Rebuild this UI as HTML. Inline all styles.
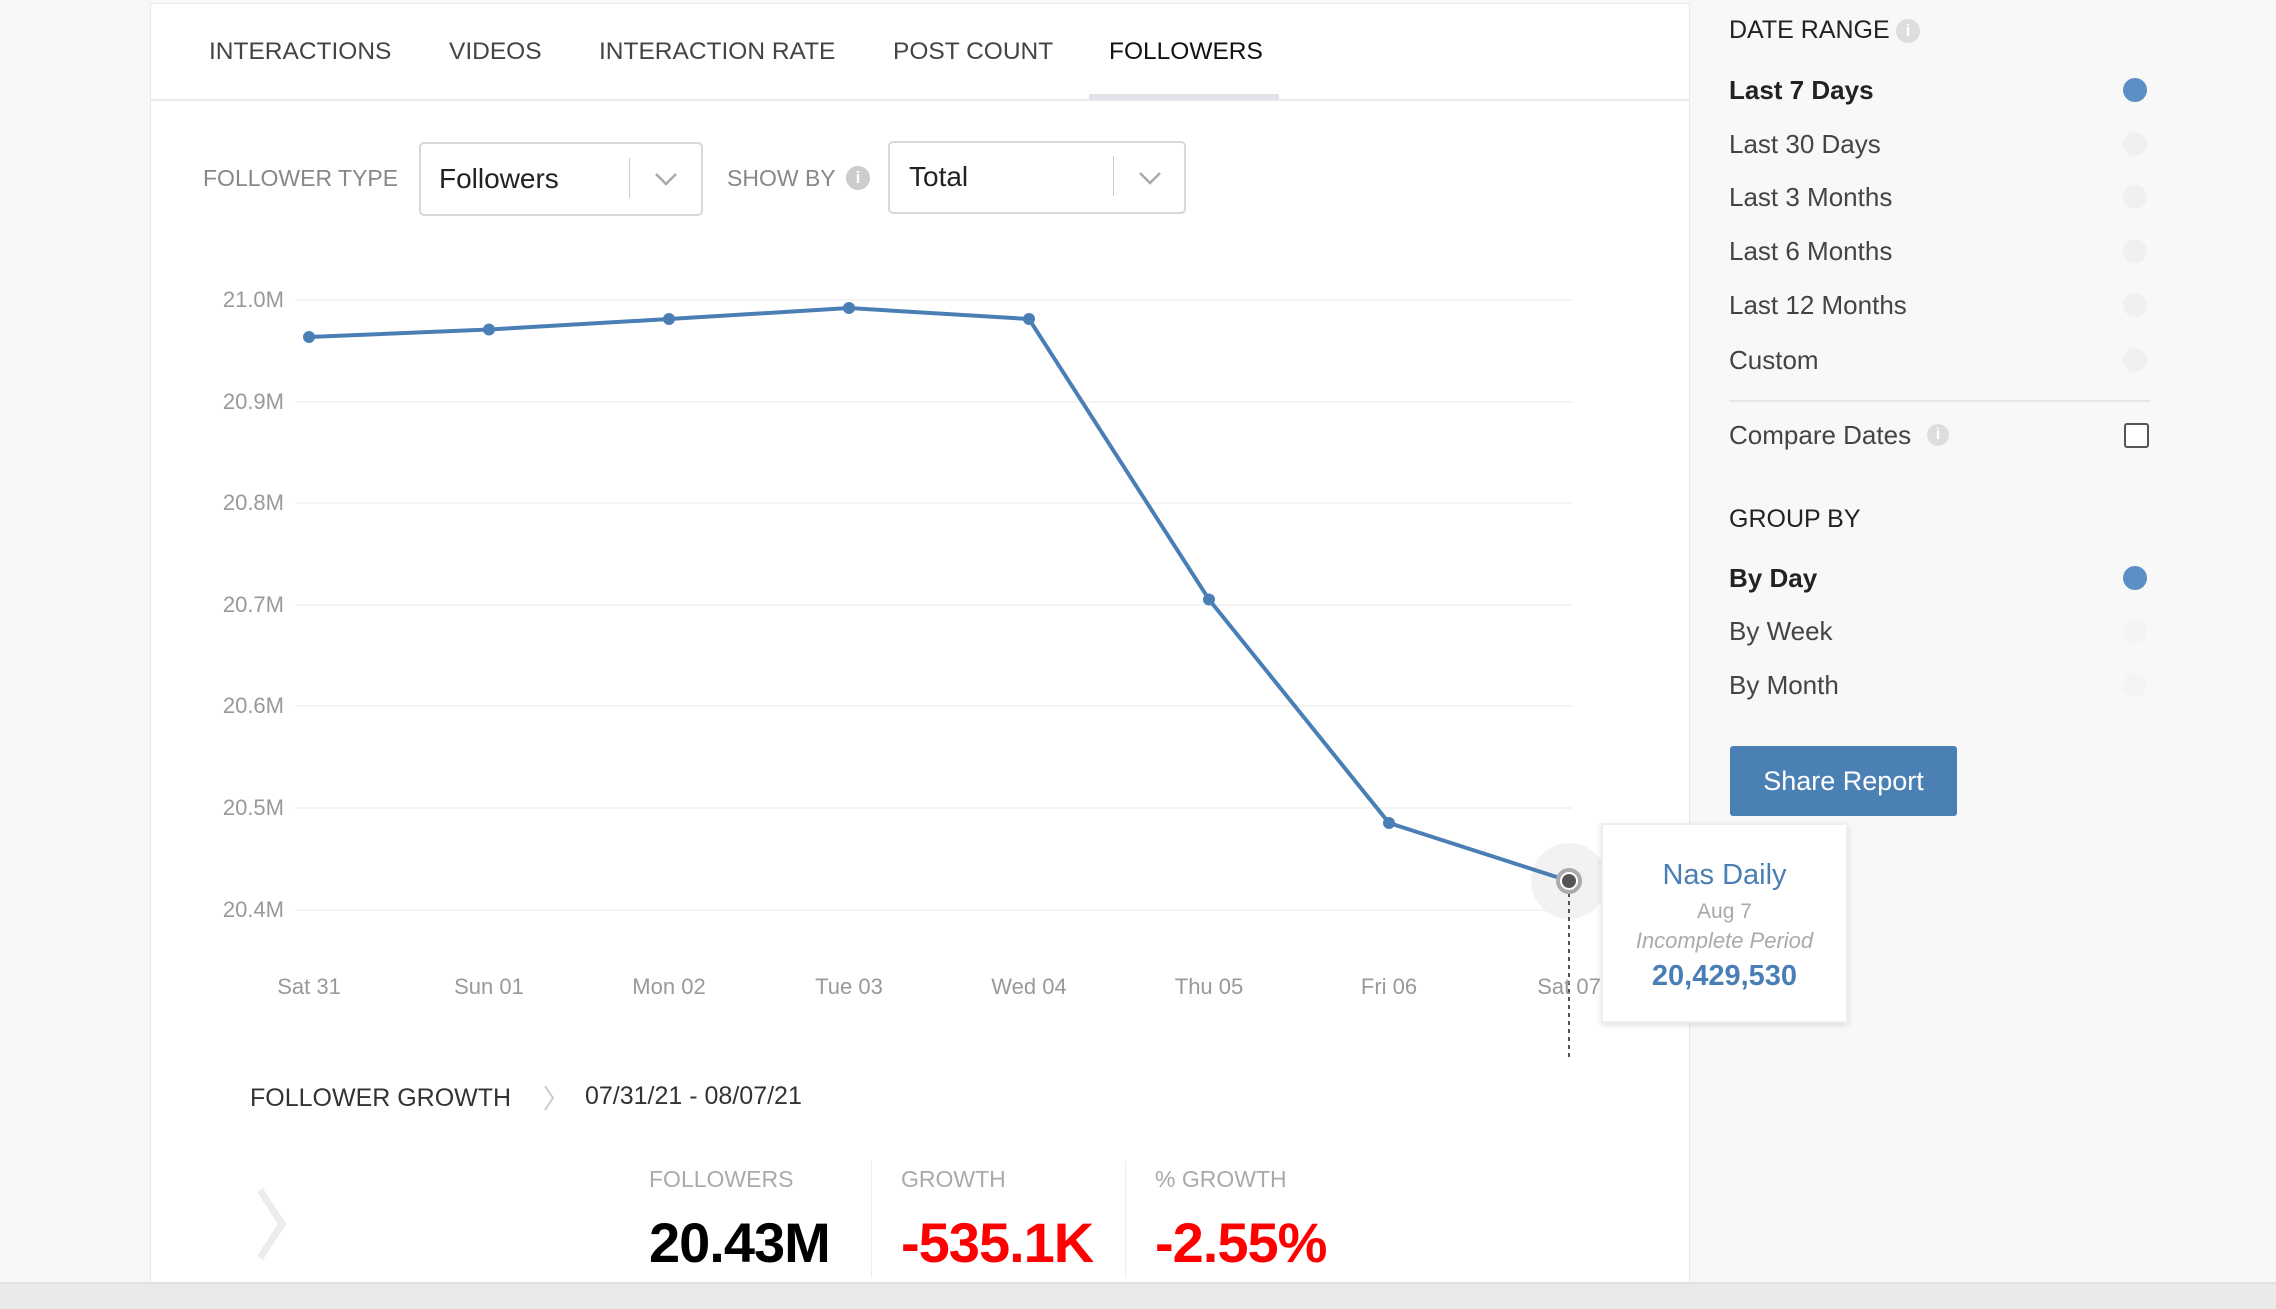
<!DOCTYPE html>
<html><head><meta charset="utf-8"><style>
*{margin:0;padding:0;box-sizing:border-box}
body{width:2276px;height:1309px;background:#f8f8f8;font-family:"Liberation Sans",sans-serif;position:relative;overflow:hidden}
.a{position:absolute;white-space:nowrap}
.panel{position:absolute;left:150px;top:3px;width:1540px;height:1280px;background:#fff;border:1px solid #e8e8e8}
.tab{position:absolute;top:38px;font-size:24.5px;color:#444}
.lbl{font-size:23px;color:#888}
.sel{position:absolute;border:2px solid #d8d8d8;border-radius:5px;background:#fff}
.yl{position:absolute;right:1992px;font-size:22px;color:#999}
.xl{position:absolute;top:974px;font-size:22px;color:#999;transform:translateX(-50%)}
.side{font-size:26px;color:#444}
.radio{position:absolute;left:2123px;width:24px;height:24px;border-radius:50%;background:#f0f0f0}
.on{background:#5b8fc5}
</style></head><body>
<div class="panel"></div>
<div class="tab a" style="left:209px">INTERACTIONS</div>
<div class="tab a" style="left:449px">VIDEOS</div>
<div class="tab a" style="left:599px">INTERACTION RATE</div>
<div class="tab a" style="left:893px">POST COUNT</div>
<div class="tab a" style="left:1109px;color:#111">FOLLOWERS</div>
<div class="a" style="left:151px;top:99px;width:1538px;height:2px;background:#ececec"></div>
<div class="a" style="left:1089px;top:94px;width:190px;height:6px;background:#e0e3e8"></div>

<div class="a lbl" style="left:203px;top:165px">FOLLOWER TYPE</div>
<div class="sel" style="left:419px;top:142px;width:284px;height:74px"></div>
<div class="a" style="left:439px;top:163px;font-size:28px;color:#222">Followers</div>
<div class="a" style="left:629px;top:158px;width:1px;height:40px;background:#ccc"></div>
<div class="a lbl" style="left:727px;top:165px">SHOW BY</div>
<div class="a" style="left:846px;top:166px;width:24px;height:24px;border-radius:50%;background:#ccc;color:#fff;font-size:17px;text-align:center;line-height:24px;font-weight:bold">i</div>
<div class="sel" style="left:888px;top:141px;width:298px;height:73px"></div>
<div class="a" style="left:909px;top:161px;font-size:28px;color:#222">Total</div>
<div class="a" style="left:1113px;top:156px;width:1px;height:40px;background:#ccc"></div>

<svg class="a" style="left:0;top:0" width="2276" height="1309">
<polyline fill="none" stroke="#aaa" stroke-width="2.5" points="656,174 666,184 676,174"/>
<polyline fill="none" stroke="#aaa" stroke-width="2.5" points="1140,173 1150,183 1160,173"/>
<g stroke="#f0f0f0" stroke-width="1.5">
<line x1="295" x2="1572" y1="300" y2="300"/><line x1="295" x2="1572" y1="402" y2="402"/><line x1="295" x2="1572" y1="503" y2="503"/><line x1="295" x2="1572" y1="605" y2="605"/><line x1="295" x2="1572" y1="706" y2="706"/><line x1="295" x2="1572" y1="808" y2="808"/><line x1="295" x2="1572" y1="910" y2="910"/>
</g>
<circle cx="1569" cy="881" r="38" fill="#f2f2f2"/>
<line x1="1569" y1="885" x2="1569" y2="1060" stroke="#555" stroke-width="2" stroke-dasharray="4,4"/>
<polyline fill="none" stroke="#4a7fb5" stroke-width="4" points="309,337 489,329.5 669,319 849,308 1029,319 1209,599.5 1389,823 1569,881"/>
<g fill="#4a7fb5"><circle cx="309" cy="337" r="6"/><circle cx="489" cy="329.5" r="6"/><circle cx="669" cy="319" r="6"/><circle cx="849" cy="308" r="6"/><circle cx="1029" cy="319" r="6"/><circle cx="1209" cy="599.5" r="6"/><circle cx="1389" cy="823" r="6"/></g>
<circle cx="1569" cy="881" r="11" fill="#fff" stroke="#aaa" stroke-width="4"/>
<circle cx="1569" cy="881" r="7" fill="#555"/>
<polyline fill="none" stroke="#ececec" stroke-width="7" points="260,1190 282,1224 260,1258"/>
<polyline fill="none" stroke="#ccc" stroke-width="2" points="545,1086 553,1098 545,1110"/>
</svg>
<div class="yl" style="top:287px">21.0M</div>
<div class="yl" style="top:389px">20.9M</div>
<div class="yl" style="top:490px">20.8M</div>
<div class="yl" style="top:592px">20.7M</div>
<div class="yl" style="top:693px">20.6M</div>
<div class="yl" style="top:795px">20.5M</div>
<div class="yl" style="top:897px">20.4M</div>
<div class="xl" style="left:309px">Sat 31</div><div class="xl" style="left:489px">Sun 01</div><div class="xl" style="left:669px">Mon 02</div><div class="xl" style="left:849px">Tue 03</div><div class="xl" style="left:1029px">Wed 04</div><div class="xl" style="left:1209px">Thu 05</div><div class="xl" style="left:1389px">Fri 06</div><div class="xl" style="left:1569px">Sat 07</div>

<div class="a" style="left:1601px;top:823px;width:247px;height:200px;background:#fff;border:2px solid #eee;box-shadow:0 2px 6px rgba(0,0,0,0.12);text-align:center">
<div style="margin-top:34px;font-size:29px;color:#4a7fb5">Nas Daily</div>
<div style="margin-top:8px;font-size:21px;color:#aaa">Aug 7</div>
<div style="margin-top:4px;font-size:22px;color:#aaa;font-style:italic">Incomplete Period</div>
<div style="margin-top:6px;font-size:29px;color:#4a7fb5;font-weight:bold">20,429,530</div>
</div>

<div class="a" style="left:250px;top:1084px;font-size:25px;color:#333">FOLLOWER GROWTH</div>
<div class="a" style="left:585px;top:1082px;font-size:25px;color:#333">07/31/21 - 08/07/21</div>
<div class="a lbl" style="left:649px;top:1166px;color:#aaa">FOLLOWERS</div>
<div class="a lbl" style="left:901px;top:1166px;color:#aaa">GROWTH</div>
<div class="a lbl" style="left:1155px;top:1166px;color:#aaa">% GROWTH</div>
<div class="a" style="left:871px;top:1161px;width:1px;height:117px;background:#ececec"></div>
<div class="a" style="left:1125px;top:1161px;width:1px;height:117px;background:#ececec"></div>
<div class="a" style="left:649px;top:1210px;font-size:56px;color:#000;font-weight:bold;letter-spacing:-1px">20.43M</div>
<div class="a" style="left:901px;top:1210px;font-size:56px;color:#f00;font-weight:bold;letter-spacing:-1px">-535.1K</div>
<div class="a" style="left:1155px;top:1210px;font-size:56px;color:#f00;font-weight:bold;letter-spacing:-1px">-2.55%</div>
<div class="a" style="left:0;top:1282px;width:2276px;height:27px;background:#eaeaea;border-top:2px solid #e0e0e0"></div>

<div class="a side" style="left:1729px;top:16px;color:#222;font-size:25px">DATE RANGE</div>
<div class="a" style="left:1896px;top:19px;width:24px;height:24px;border-radius:50%;background:#ddd;color:#fff;font-size:17px;text-align:center;line-height:24px;font-weight:bold">i</div>
<div class="a side" style="left:1729px;top:75px;font-weight:bold;color:#222">Last 7 Days</div><div class="radio on" style="top:78px"></div>
<div class="a side" style="left:1729px;top:129px">Last 30 Days</div><div class="radio" style="top:132px"></div>
<div class="a side" style="left:1729px;top:182px">Last 3 Months</div><div class="radio" style="top:185px"></div>
<div class="a side" style="left:1729px;top:236px">Last 6 Months</div><div class="radio" style="top:239px"></div>
<div class="a side" style="left:1729px;top:290px">Last 12 Months</div><div class="radio" style="top:293px"></div>
<div class="a side" style="left:1729px;top:345px">Custom</div><div class="radio" style="top:348px"></div>
<div class="a" style="left:1729px;top:400px;width:421px;height:2px;background:#e6e6e6"></div>
<div class="a side" style="left:1729px;top:420px">Compare Dates</div>
<div class="a" style="left:1927px;top:424px;width:22px;height:22px;border-radius:50%;background:#ddd;color:#fff;font-size:16px;text-align:center;line-height:22px;font-weight:bold">i</div>
<div class="a" style="left:2124px;top:423px;width:25px;height:25px;border:2px solid #555;border-radius:3px;background:#fff"></div>
<div class="a side" style="left:1729px;top:505px;color:#222;font-size:25px">GROUP BY</div>
<div class="a side" style="left:1729px;top:563px;font-weight:bold;color:#222">By Day</div><div class="radio on" style="top:566px"></div>
<div class="a side" style="left:1729px;top:616px">By Week</div><div class="radio" style="top:619px;background:#f4f4f4"></div>
<div class="a side" style="left:1729px;top:670px">By Month</div><div class="radio" style="top:673px;background:#f4f4f4"></div>
<div class="a" style="left:1730px;top:746px;width:227px;height:70px;background:#4a80b4;border-radius:3px;color:#fff;font-size:27px;text-align:center;line-height:70px">Share Report</div>
</body></html>
